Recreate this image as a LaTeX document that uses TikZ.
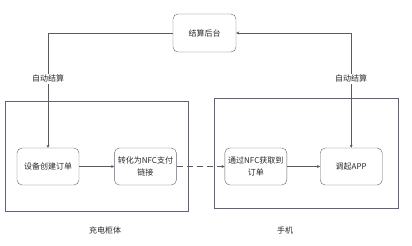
\documentclass[tikz,border=0pt]{standalone}
\usepackage{fontspec}
\setmainfont{Noto Sans CJK SC}
\usetikzlibrary{arrows.meta,positioning}
\definecolor{linegray}{RGB}{90,90,96}
\definecolor{boxedge}{RGB}{96,98,120}
\definecolor{textgray}{RGB}{40,40,40}
\tikzset{
  box/.style={
    rectangle,
    rounded corners=5pt,
    draw=boxedge,
    fill=white,
    align=center,
    minimum width=62pt,
    minimum height=37pt,
    text=textgray,
    font=\fontsize{8}{12}\selectfont
  },
  panel/.style={
    rectangle,
    draw=boxedge,
    minimum width=183pt,
    minimum height=110pt
  },
  tag/.style={
    fill=white,
    inner sep=1pt,
    text=textgray,
    font=\fontsize{8}{10}\selectfont
  },
  arrow/.style={-{Stealth[length=3pt,width=3pt]}, draw=linegray, line width=0.6pt}
}

\begin{document}
\begin{tikzpicture}[x=1pt,y=1pt]
    \useasboundingbox (0,0) rectangle (412,246);

    \node[panel] (cabinet) at (96.5,90) {};
    \node[panel, minimum width=184pt] (phone) at (306,93) {};

    \node[box] (order) at (48,79.5) {设备创建订单};
    \node[box, right=35pt of order] (link) {转化为NFC支付\\链接};
    \node[box, right=48pt of link] (fetch) {通过NFC获取到\\订单};
    \node[box, right=33pt of fetch] (app) {调起APP};

    \node[box, minimum width=63pt, minimum height=38pt] (settle) at (204.5,213) {结算后台};

    \node[tag] at (105,16) {充电柜体};
    \node[tag] at (285,16) {手机};

    \draw[arrow] (settle.west) -| node[tag, pos=0.7] {自动结算} (order.north);
    \draw[arrow, {Stealth[length=3pt,width=3pt]}-{Stealth[length=3pt,width=3pt]}] (app.north) |- node[tag, pos=0.3] {自动结算} (settle.east);
    \draw[arrow] (order) -- (link);
    \draw[arrow, dashed, dash pattern=on 6pt off 4pt] (link) -- (fetch);
    \draw[arrow] (fetch) -- (app);
  \end{tikzpicture}
\end{document}
